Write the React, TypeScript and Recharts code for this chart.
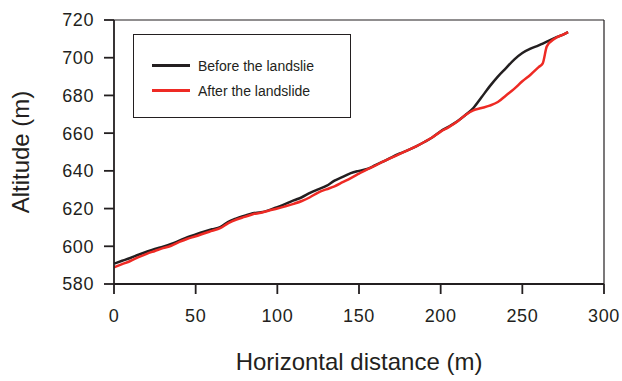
import React from 'react';
import { LineChart, Line, XAxis, YAxis, ReferenceLine } from 'recharts';

// Distancia horizontal (m)
const distances = [
  0, 5, 10, 15, 20, 25, 30, 35, 40, 45, 50, 55, 60, 65, 70, 75, 80, 85, 90, 95,
  100, 105, 110, 115, 120, 125, 130, 135, 140, 145, 150, 155, 160, 165, 170, 175,
  180, 185, 190, 195, 200, 205, 210, 215, 220, 225, 230, 235, 240, 245, 250, 255,
  260, 262.5, 265, 270, 275, 278,
];

// Altitud antes del deslizamiento (m)
const beforeAltitude = [
  590.8, 592.3, 593.8, 595.5, 597.1, 598.6, 599.8, 601.2, 603, 604.8, 606.3, 607.7,
  609, 610.2, 613, 614.8, 616.2, 617.5, 618, 619.2, 620.8, 622.5, 624.3, 626, 628.3,
  630.2, 632, 634.8, 636.8, 638.8, 640, 641, 643, 645, 647.2, 649.2, 651, 653, 655.3,
  657.8, 661, 663.5, 666.2, 669.5, 673.3, 679, 684.8, 690, 694.5, 699, 702.5, 704.8,
  706.5, 707.5, 708.5, 710.5, 712.3, 713.6,
];

// Altitud después del deslizamiento (m)
const afterAltitude = [
  588.8, 590.5, 592.2, 594.2, 596, 597.5, 599, 600.3, 602.3, 604, 605.3, 606.8,
  608.2, 609.6, 612.3, 614.2, 615.6, 617, 617.8, 619, 620, 621.2, 622.5, 624, 626,
  628.5, 630.2, 631.8, 634, 636.2, 638.5, 640.8, 642.8, 645, 647, 649, 651, 653,
  655.3, 657.8, 660.8, 663.2, 666, 669.5, 672.1, 673.3, 674.6, 676.5, 680, 683.5,
  687.5, 691, 695, 697, 706, 710.2, 712.3, 713.6,
];

const xTicks = [0, 50, 100, 150, 200, 250, 300];
const yTicks = [580, 600, 620, 640, 660, 680, 700, 720];

const series = [
  { key: 'before', label: 'Before the landslie', color: '#231f20' },
  { key: 'after', label: 'After the landslide', color: '#ee2a24' },
];

const data = distances.map((d, i) => ({
  distance: d,
  before: beforeAltitude[i],
  after: afterAltitude[i],
}));

const FONT = 'Arial, "Liberation Sans", Helvetica, sans-serif';

const LegendBox = () => (
  <div
    style={{
      position: 'absolute',
      left: 133,
      top: 34,
      width: 218,
      height: 84,
      border: '1.5px solid #231f20',
      background: '#fff',
      fontFamily: FONT,
      fontSize: 14,
      color: '#231f20',
      paddingTop: 18,
      boxSizing: 'border-box',
    }}
  >
    {series.map((s) => (
      <div key={s.key} style={{ display: 'flex', alignItems: 'center', height: 25 }}>
        <div style={{ width: 38, height: 3, background: s.color, marginLeft: 18, marginRight: 8 }} />
        <span>{s.label}</span>
      </div>
    ))}
  </div>
);

const tickStyle = { fill: '#231f20', fontSize: 18, fontFamily: FONT, letterSpacing: 0.6 };

export default function App() {
  return (
    <div style={{ position: 'fixed', left: 0, top: 0, width: 622, height: 381, background: '#fff' }}>
      <LineChart
        width={622}
        height={381}
        data={data}
        margin={{ top: 20, right: 18, bottom: 37, left: 54 }}
      >
        <XAxis
          dataKey="distance"
          type="number"
          domain={[0, 300]}
          ticks={xTicks}
          tickSize={10}
          tickMargin={15}
          height={60}
          allowDataOverflow
          stroke="#231f20"
          strokeWidth={1.8}
          tick={tickStyle}
          label={{
            value: 'Horizontal distance (m)',
            position: 'insideBottom',
            offset: -26,
            fill: '#231f20',
            fontSize: 24,
            fontFamily: FONT,
          }}
        />
        <YAxis
          type="number"
          domain={[580, 720]}
          ticks={yTicks}
          interval={0}
          tickSize={10}
          tickMargin={10}
          width={60}
          allowDataOverflow
          stroke="#231f20"
          strokeWidth={1.8}
          tick={tickStyle}
          label={{
            value: 'Altitude (m)',
            angle: -90,
            position: 'insideLeft',
            offset: -34,
            fill: '#231f20',
            fontSize: 24,
            fontFamily: FONT,
            style: { textAnchor: 'middle' },
          }}
        />
        <ReferenceLine y={720} stroke="#231f20" strokeWidth={1.2} ifOverflow="visible" />
        <ReferenceLine x={300} stroke="#231f20" strokeWidth={1.2} ifOverflow="visible" />
        {series.map((s) => (
          <Line
            key={s.key}
            dataKey={s.key}
            name={s.label}
            type="monotone"
            stroke={s.color}
            strokeWidth={2.5}
            dot={false}
            isAnimationActive={false}
          />
        ))}
      </LineChart>
      <LegendBox />
    </div>
  );
}
